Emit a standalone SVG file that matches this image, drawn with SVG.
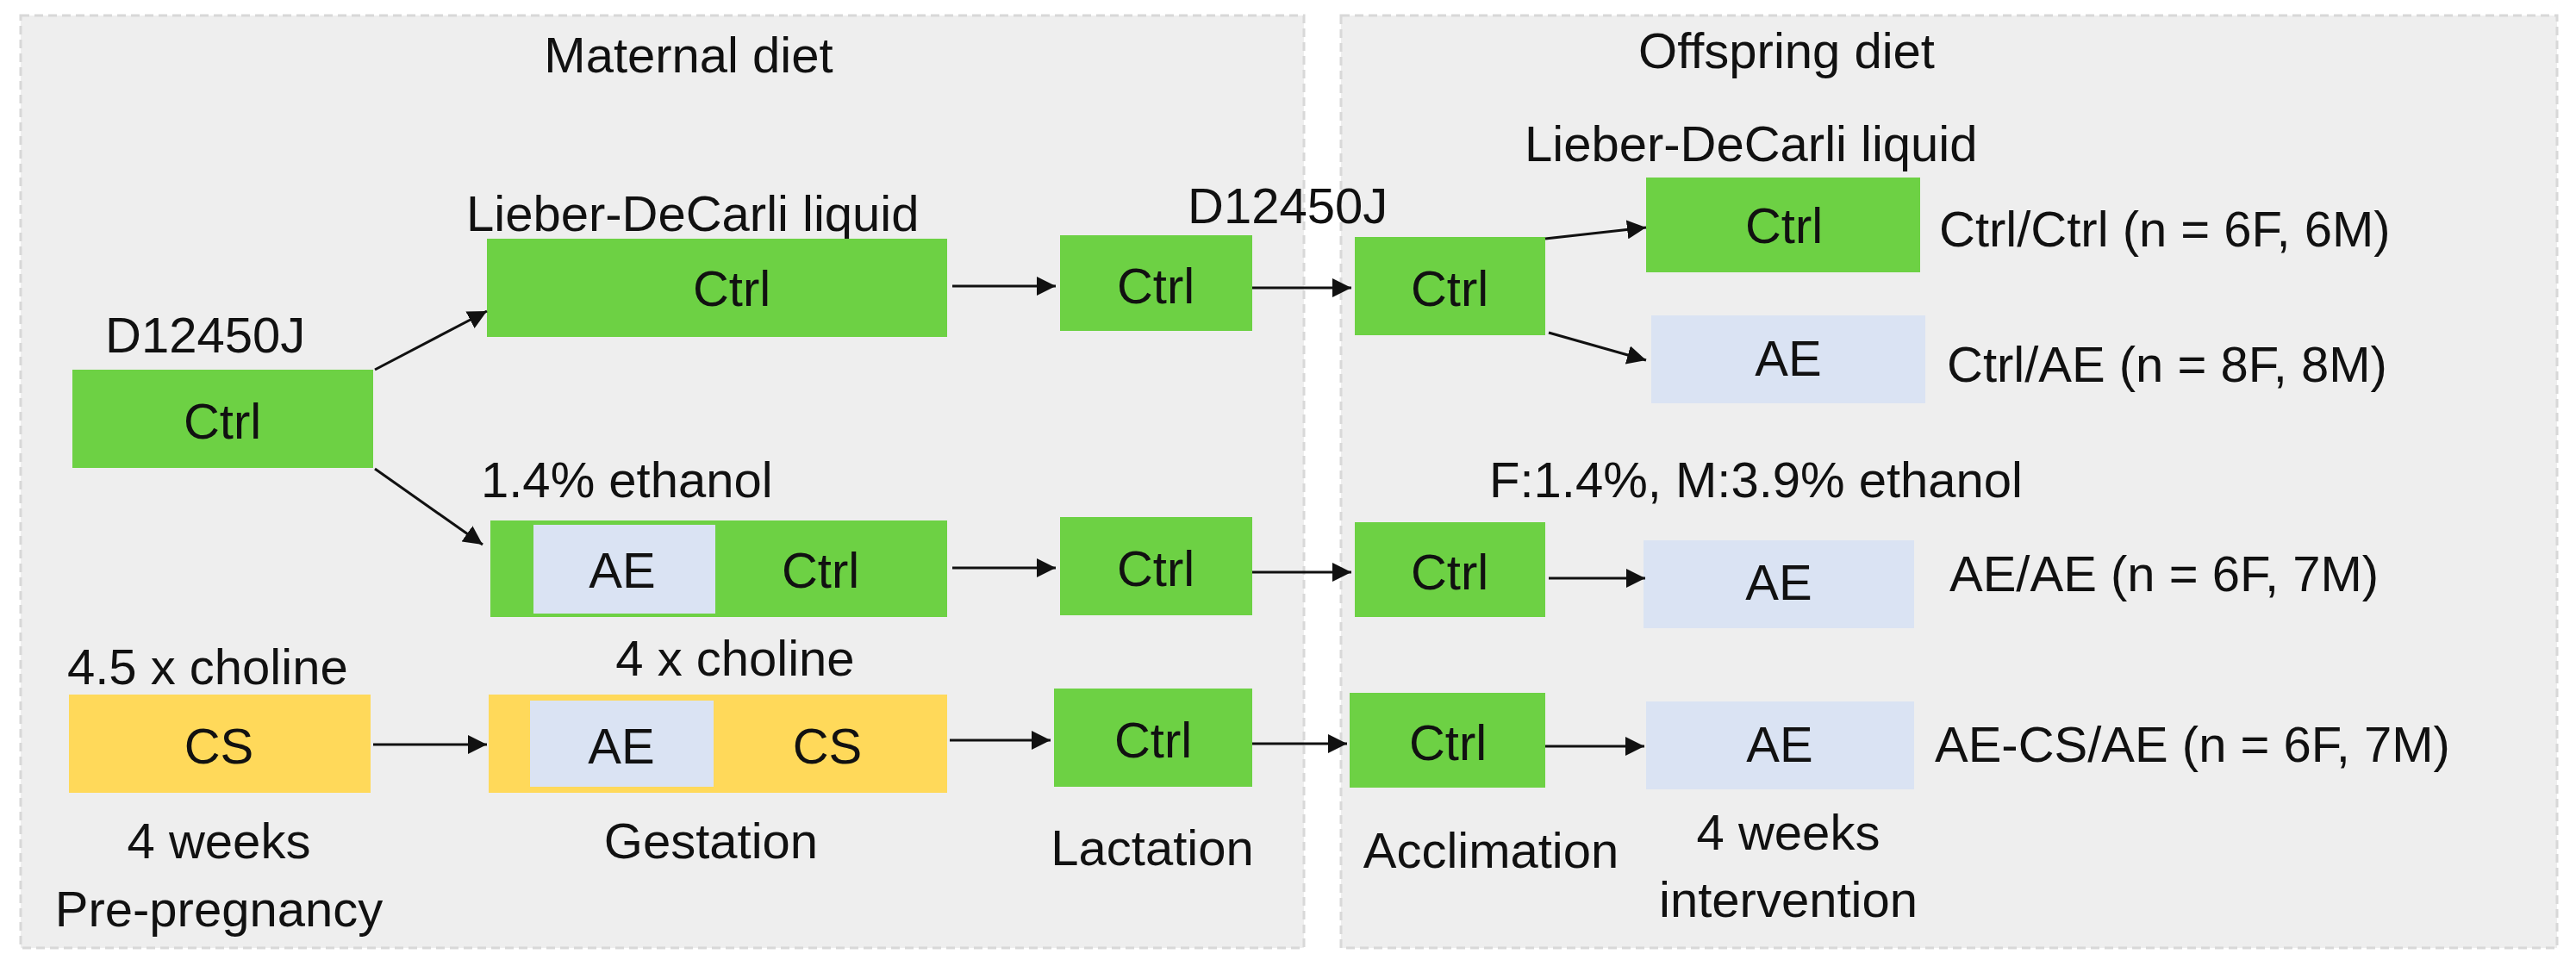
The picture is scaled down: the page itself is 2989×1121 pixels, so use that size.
<svg xmlns="http://www.w3.org/2000/svg" width="2989" height="1121" viewBox="0 0 2989 1121">
<style>
.panel{fill:#eeeeee;stroke:#d8d8d8;stroke-width:3;stroke-dasharray:10 6}
.g{fill:#6dd144}.b{fill:#dae3f3}.y{fill:#ffd95a}
text{font-family:"Liberation Sans",Arial,sans-serif;font-size:58px;fill:#111}
.m{text-anchor:middle}
.c{stroke:#111;stroke-width:3;fill:none;marker-end:url(#ah)}
</style>
<defs><marker id="ah" markerWidth="10" markerHeight="10" refX="9" refY="5" orient="auto" markerUnits="userSpaceOnUse" viewBox="0 0 10 10"><path d="M0,0 L10,5 L0,10 Z" fill="#111"/></marker>
<marker id="ahx" viewBox="0 0 10 10" refX="10" refY="5" markerWidth="22" markerHeight="22" markerUnits="userSpaceOnUse" orient="auto"><path d="M0,0 L10,5 L0,10 Z" fill="#111"/></marker></defs>
<rect class="panel" x="24" y="18" width="1489" height="1082"/>
<rect class="panel" x="1556" y="18" width="1411" height="1082"/>
<g id="labels">
<text class="m" x="799" y="84">Maternal diet</text>
<text class="m" x="2073" y="79">Offspring diet</text>
<text x="541" y="268">Lieber-DeCarli liquid</text>
<text x="1378" y="259">D12450J</text>
<text x="122" y="409">D12450J</text>
<text x="558" y="577">1.4% ethanol</text>
<text x="78" y="794">4.5 x choline</text>
<text class="m" x="853" y="784">4 x choline</text>
<text class="m" x="254" y="996">4 weeks</text>
<text class="m" x="254" y="1075">Pre-pregnancy</text>
<text class="m" x="825" y="996">Gestation</text>
<text class="m" x="1337" y="1004">Lactation</text>
<text x="1769" y="187">Lieber-DeCarli liquid</text>
<text x="1728" y="577">F:1.4%, M:3.9% ethanol</text>
<text class="m" x="1730" y="1007">Acclimation</text>
<text class="m" x="2075" y="986">4 weeks</text>
<text class="m" x="2075" y="1064">intervention</text>
<text x="2250" y="286">Ctrl/Ctrl (n = 6F, 6M)</text>
<text x="2259" y="443">Ctrl/AE (n = 8F, 8M)</text>
<text x="2262" y="686">AE/AE (n = 6F, 7M)</text>
<text x="2245" y="884">AE-CS/AE (n = 6F, 7M)</text>
</g>
<g id="n1"><rect class="g" x="84" y="429" width="349" height="114"/><text class="m" x="258" y="509">Ctrl</text></g>
<g id="n2"><rect class="g" x="565" y="277" width="534" height="114"/><text class="m" x="849" y="355">Ctrl</text></g>
<g id="n3"><rect class="g" x="569" y="604" width="530" height="112"/><rect class="b" x="619" y="609" width="211" height="103"/><text class="m" x="722" y="682">AE</text><text class="m" x="952" y="682">Ctrl</text></g>
<g id="n4"><rect class="y" x="80" y="806" width="350" height="114"/><text class="m" x="254" y="886">CS</text></g>
<g id="n5"><rect class="y" x="567" y="806" width="532" height="114"/><rect class="b" x="615" y="813" width="213" height="100"/><text class="m" x="721" y="886">AE</text><text class="m" x="960" y="886">CS</text></g>
<g id="n6"><rect class="g" x="1230" y="273" width="223" height="111"/><text class="m" x="1341" y="352">Ctrl</text></g>
<g id="n7"><rect class="g" x="1230" y="600" width="223" height="114"/><text class="m" x="1341" y="680">Ctrl</text></g>
<g id="n8"><rect class="g" x="1223" y="799" width="230" height="114"/><text class="m" x="1338" y="879">Ctrl</text></g>
<g id="n9"><rect class="g" x="1572" y="275" width="221" height="114"/><text class="m" x="1682" y="355">Ctrl</text></g>
<g id="n10"><rect class="g" x="1572" y="606" width="221" height="110"/><text class="m" x="1682" y="684">Ctrl</text></g>
<g id="n11"><rect class="g" x="1566" y="804" width="227" height="110"/><text class="m" x="1680" y="882">Ctrl</text></g>
<g id="n12"><rect class="g" x="1910" y="206" width="318" height="110"/><text class="m" x="2070" y="282">Ctrl</text></g>
<g id="n13"><rect class="b" x="1916" y="366" width="318" height="102"/><text class="m" x="2075" y="436">AE</text></g>
<g id="n14"><rect class="b" x="1907" y="627" width="314" height="102"/><text class="m" x="2064" y="696">AE</text></g>
<g id="n15"><rect class="b" x="1910" y="814" width="311" height="102"/><text class="m" x="2065" y="884">AE</text></g>
<g id="connectors">
<line class="c" x1="435" y1="429" x2="565" y2="361" style="marker-end:url(#ahx)"/>
<line class="c" x1="435" y1="544" x2="560" y2="632" style="marker-end:url(#ahx)"/>
<line class="c" x1="433" y1="864" x2="565" y2="864" style="marker-end:url(#ahx)"/>
<line class="c" x1="1105" y1="332" x2="1225" y2="332" style="marker-end:url(#ahx)"/>
<line class="c" x1="1105" y1="659" x2="1225" y2="659" style="marker-end:url(#ahx)"/>
<line class="c" x1="1102" y1="859" x2="1219" y2="859" style="marker-end:url(#ahx)"/>
<line class="c" x1="1453" y1="334" x2="1568" y2="334" style="marker-end:url(#ahx)"/>
<line class="c" x1="1453" y1="664" x2="1568" y2="664" style="marker-end:url(#ahx)"/>
<line class="c" x1="1453" y1="863" x2="1563" y2="863" style="marker-end:url(#ahx)"/>
<line class="c" x1="1793" y1="277" x2="1910" y2="264" style="marker-end:url(#ahx)"/>
<line class="c" x1="1797" y1="386" x2="1910" y2="418" style="marker-end:url(#ahx)"/>
<line class="c" x1="1797" y1="671" x2="1909" y2="671" style="marker-end:url(#ahx)"/>
<line class="c" x1="1793" y1="866" x2="1908" y2="866" style="marker-end:url(#ahx)"/>
</g>
</svg>
